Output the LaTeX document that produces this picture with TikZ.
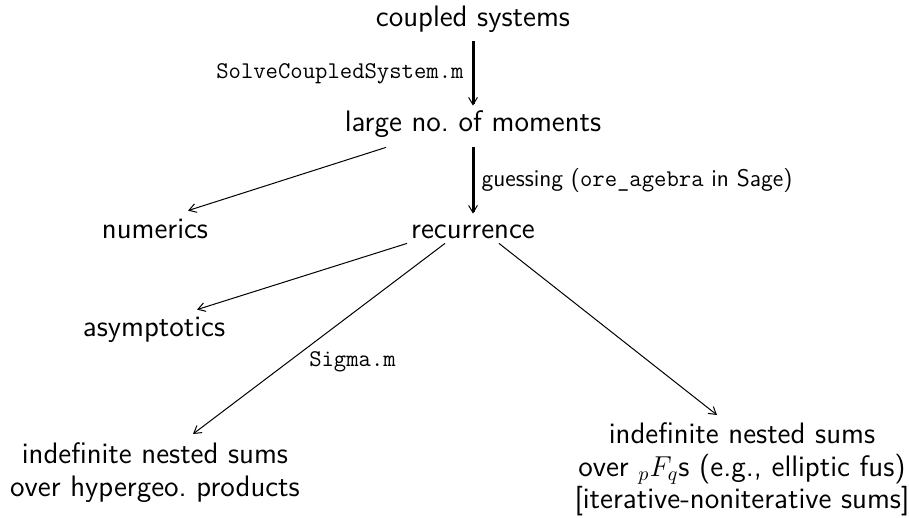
\documentclass[tikz,border=0pt]{standalone}
\usetikzlibrary{arrows.meta,calc}
\begin{document}
\begin{tikzpicture}[x=0.5pt,y=-0.5pt,
  txt/.style={font=\fontsize{14.8}{16.3}\selectfont\sffamily, inner sep=0pt, text height=10pt, text depth=3pt, anchor=base},
  blk/.style={font=\fontsize{14.8}{16.4}\selectfont\sffamily, inner sep=0pt, align=center, anchor=north},
  lbl/.style={font=\fontsize{12}{14}\selectfont\sffamily, inner sep=0pt},
  tip/.style={-{Straight Barb[length=3.6pt,width=4.4pt,line width=0.5pt]}},
  thinarrow/.style={tip, line width=0.5pt},
  thickarrow/.style={tip, line width=1.5pt}]
\useasboundingbox (0,0) rectangle (909,518);
\node[txt] (cs) at (473,27) {coupled systems};
\node[txt] (lm) at (473,132) {large no.\ of moments};
\node[txt] (rec) at (473,239) {recurrence};
\node[txt] (num) at (155,239) {numerics};
\node[txt] (asy) at (154,336) {asymptotics};
\node[blk] (hyp) at (155,442) {indefinite nested sums\\over hypergeo.\ products};
\node[blk] (pfq) at (742,422) {indefinite nested sums\\over ${}_pF_q$s (e.g., elliptic fus)\\{}[iterative-noniterative sums]};
\draw[thickarrow] ($(cs.south)+(0,8)$) -- ($(lm.north)+(0,-6)$)
  node[midway,left=4pt,lbl] (l1) {\texttt{SolveCoupledSystem.m}};
\draw[thickarrow] ($(lm.south)+(0,9)$) -- ($(rec.north)+(0,-5)$)
  node[midway,right=3.5pt,lbl] (l2) {guessing (\texttt{ore\_agebra} in Sage)};
\draw[thinarrow] ($(lm.south)+(-87,9)$) -- ($(num.north)+(33,-8)$);
\draw[thinarrow] ($(rec.south)+(-66,-2)$) -- ($(asy.north)+(43,-6)$);
\draw[thinarrow] ($(rec.south)+(-28,-2)$) -- ($(hyp.north)+(38,-8)$)
  node[pos=0.62,right=10pt,lbl] (l3) {\texttt{Sigma.m}};
\draw[thinarrow] ($(rec.south)+(26,-2)$) -- ($(pfq.north)+(-25,-7)$);
\end{tikzpicture}
\end{document}
